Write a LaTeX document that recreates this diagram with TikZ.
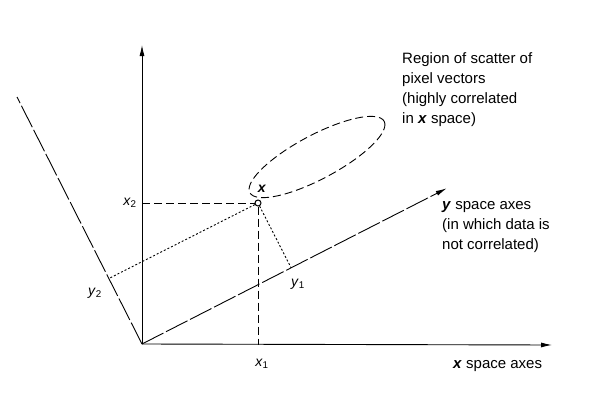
\documentclass[tikz,border=0pt]{standalone}
\usepackage{fontspec}
\setmainfont{Liberation Sans}
\usetikzlibrary{calc,arrows.meta}
\begin{document}
\begin{tikzpicture}[x=1pt,y=-1pt,
  axis/.style={line width=0.9pt,-{Latex[length=11pt,width=5pt]}},
  longdash/.style={line width=0.9pt,dash pattern=on 24pt off 3pt},
  guide/.style={line width=0.9pt,dash pattern=on 8pt off 4pt},
  proj/.style={line width=0.9pt,dash pattern=on 2pt off 2pt},
  lbl/.style={font=\fontsize{14}{16}\selectfont,inner sep=0pt},
  txt/.style={font=\fontsize{15}{20}\selectfont,inner sep=0pt,align=left}]
\useasboundingbox (0,0) rectangle (614,399);
\coordinate (O) at (142,344);
\coordinate (X2top) at (142,45);
\coordinate (X1end) at (552,345);
\coordinate (Y1end) at (446.7,188.3);
\coordinate (Y2end) at (17,97);
\coordinate (X) at (258,203);
\coordinate (F1) at ($(O)!(X)!(Y1end)$);
\coordinate (F2) at ($(O)!(X)!(Y2end)$);
\coordinate (A1) at (258,345);
\coordinate (A2) at (142,203);
% axes
\draw[axis] (O) -- (X2top);
\draw[axis] (O) -- (X1end);
\draw[longdash,-{Latex[length=11pt,width=5pt]}] (O) -- (Y1end);
\draw[longdash] (O) -- (Y2end);
% ellipse of scatter
\draw[guide] plot[domain=0:360,samples=120,smooth cycle]
  ({317+76*cos(\x)*cos(28)+22*sin(\x)*sin(28)},{157-76*cos(\x)*sin(28)+22*sin(\x)*cos(28)});
% point
\node[circle,draw,fill=white,line width=1pt,inner sep=0pt,minimum size=6pt] (Xc) at (X) {};
\draw[guide] (A2) -- (Xc);
\draw[guide] (Xc) -- (A1);
\draw[proj] (Xc) -- (F1);
\draw[proj] (Xc) -- (F2);
% labels
\node[lbl] (lx) at (262,189) {\textbf{\textit{x}}};
\node[lbl] (lx2) at (130,203) {\textit{x}\textsubscript{2}};
\node[lbl] (lx1) at (262,364) {\textit{x}\textsubscript{1}};
\node[lbl] (ly1) at (298,284) {\textit{y}\textsubscript{1}};
\node[lbl] (ly2) at (95,293) {\textit{y}\textsubscript{2}};
\node[txt,anchor=north west] (reg) at (402,52) {Region of scatter of\\pixel vectors\\(highly correlated\\in \textbf{\textit{x}} space)};
\node[txt,anchor=north west] (yax) at (442,201) {\textbf{\textit{y}} space axes\\(in which data is\\not correlated)};
\node[txt,anchor=base west] (xax) at (453,368) {\textbf{\textit{x}} space axes};
\end{tikzpicture}
\end{document}
